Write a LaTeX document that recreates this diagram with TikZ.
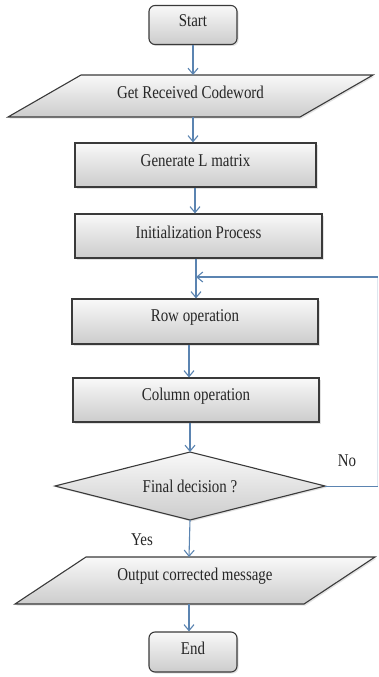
\documentclass[tikz,border=0pt]{standalone}
\usepackage{fontspec}
\setmainfont{Liberation Serif}[FakeStretch=0.83]
\usetikzlibrary{arrows.meta,shadows,shapes.geometric,calc}
\definecolor{arrowblue}{HTML}{5B84B1}
\definecolor{edgegray}{HTML}{3A3A3A}
\tikzset{
  shade box/.style={draw=edgegray, line width=1.1pt, top color=gray!5, bottom color=gray!40,
    drop shadow={shadow xshift=1.5pt, shadow yshift=-1.5pt, fill=black!25, opacity=0.45}},
  procbox/.style={shade box, rectangle, inner sep=0pt},
  termbox/.style={shade box, rectangle, rounded corners=6pt, inner sep=0pt,
    minimum width=88pt, minimum height=39pt},
  lbl/.style={font=\fontsize{18}{20}\selectfont, text=black!85, inner sep=0pt},
  txt/.style={lbl, yshift=4pt},
  arr/.style={draw=arrowblue, line width=1.1pt, -{Straight Barb[length=6pt,width=10pt,line width=1.1pt]}},
  line/.style={draw=arrowblue, line width=0.9pt},
}
\begin{document}
\begin{tikzpicture}[x=1pt,y=-1pt]
\useasboundingbox (0,0) rectangle (378,677);
% Start
\node[termbox] (start) at (193,25) {};
\node[txt] (starttxt) at (start) {Start};
% Parallelogram 1
\coordinate (p1a) at (81,75);
\coordinate (p1b) at (373,75);
\coordinate (p1c) at (300,117);
\coordinate (p1d) at (8,117);
\path[shade box] (p1a) -- (p1b) -- (p1c) -- (p1d) -- cycle;
\node[txt] (p1) at (190.5,96) {Get Received Codeword};
\coordinate (p1n) at (193,75);
\coordinate (p1s) at (193,117);
% Generate L matrix
\node[procbox, minimum width=241pt, minimum height=44pt] (gen) at (195.5,165) {};
\node[txt] (gentxt) at (gen) {Generate L matrix};
% Initialization
\node[procbox, minimum width=247pt, minimum height=44pt] (init) at (198.5,236) {};
\node[txt] (inittxt) at (init) {Initialization Process};
% Row operation
\node[procbox, minimum width=246pt, minimum height=45pt] (row) at (195,321.5) {};
\node[txt] (rowtxt) at (row) {Row operation};
% Column operation
\node[procbox, minimum width=246pt, minimum height=44pt] (col) at (196,400) {};
\node[txt] (coltxt) at (col) {Column operation};
% Decision diamond
\coordinate (dt) at (190,452);
\coordinate (dr) at (325,486);
\coordinate (db) at (190,520);
\coordinate (dl) at (55,486);
\path[shade box] (dt) -- (dr) -- (db) -- (dl) -- cycle;
\node[lbl] (dec) at (190,486) {Final decision ?};
% Parallelogram 2
\coordinate (p2a) at (86,557);
\coordinate (p2b) at (375,557);
\coordinate (p2c) at (304,604);
\coordinate (p2d) at (15,604);
\path[shade box] (p2a) -- (p2b) -- (p2c) -- (p2d) -- cycle;
\node[txt] (p2) at (195,580.5) {Output corrected message};
\coordinate (p2n) at (189,557);
\coordinate (p2s) at (189,604);
% End
\node[termbox, minimum height=40pt] (end) at (193,652) {};
\node[txt] (endtxt) at (end) {End};
% labels
\node[lbl] (yes) at (142,540) {Yes};
\node[lbl] (no) at (347,461) {No};
% connectors
\draw[arr] (start.south) -- (p1n);
\draw[arr] (p1s) -- (p1s |- gen.north);
\draw[arr] (gen.south -| 195,0) -- (195,0 |- init.north);
\coordinate (loopin) at (196,277);
\coordinate (loopr) at (377.5,277);
\coordinate (loopd) at (377.5,486);
\draw[arr] (init.south -| loopin) -- (loopin |- row.north);
\draw[arr] (row.south -| 189,0) -- (189,0 |- col.north);
\draw[arr] (col.south -| dt) -- (dt);
\draw[arr] (db) -- (p2n);
\draw[arr] (p2s) -- (p2s |- end.north);
\draw[line] (dr) -- (loopd);
\draw[line, draw=arrowblue!20] (loopd) -- (loopr);
\draw[arr] (loopr) -- (loopin);
\end{tikzpicture}
\end{document}
